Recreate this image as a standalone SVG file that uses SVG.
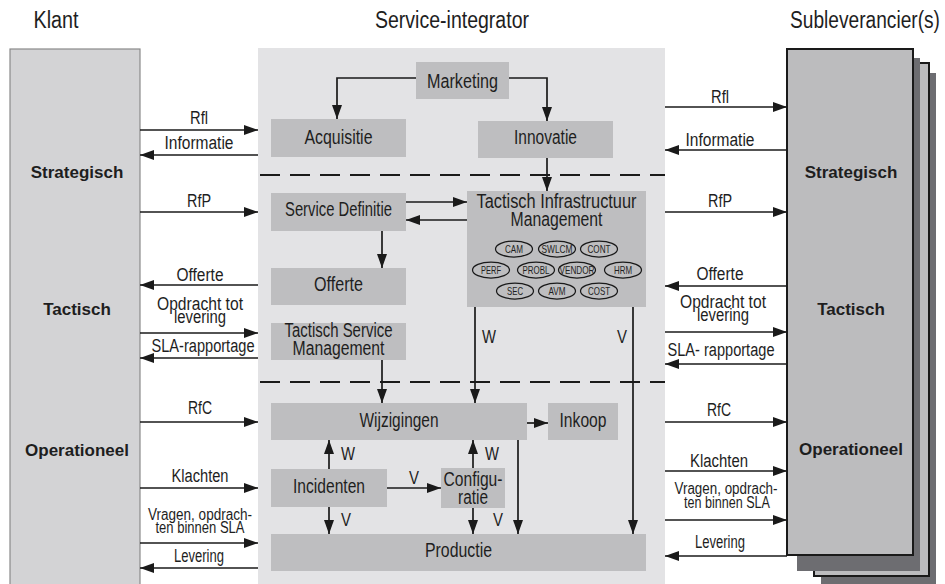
<svg xmlns="http://www.w3.org/2000/svg" width="945" height="584" viewBox="0 0 945 584">
  <style>
    text { font-family: "Liberation Sans", Arial, sans-serif; fill: #1e1e1e; text-anchor: middle; }
    .hd { font-size: 23px; }
    .nd { font-size: 20px; }
    .lb { font-size: 18px; }
    .sm { font-size: 16px; }
    .wv { font-size: 18px; text-anchor: start; }
    .bd { font-weight: bold; font-size: 17px; }
    .node rect { fill: #bebec0; }
    .ov ellipse { fill: none; stroke: #1a1a1a; stroke-width: 1.25; }
    .ov text { font-size: 11px; }
    .c { fill: none; stroke: #1a1a1a; stroke-width: 1.7; marker-end: url(#ah); }
    .dash { stroke: #1a1a1a; stroke-width: 2; stroke-dasharray: 20 10; }
  </style>
  <defs>
    <marker id="ah" markerUnits="userSpaceOnUse" markerWidth="14" markerHeight="10" refX="14" refY="5" orient="auto">
      <path d="M0,0 L14,5 L0,10 z" fill="#1a1a1a"/>
    </marker>
  </defs>

  <rect width="945" height="584" fill="#ffffff"/>

  <!-- column headings -->
  <text class="hd" x="56" y="28" textLength="45" lengthAdjust="spacingAndGlyphs">Klant</text>
  <text class="hd" x="452" y="28" textLength="154" lengthAdjust="spacingAndGlyphs">Service-integrator</text>
  <text class="hd" x="865" y="28" textLength="150" lengthAdjust="spacingAndGlyphs">Subleverancier(s)</text>

  <!-- customer column -->
  <g id="klant">
    <rect x="10" y="49" width="130" height="545" fill="#d3d3d5" stroke="#8a8a8a" stroke-width="1.2"/>
    <text class="bd" x="77" y="178">Strategisch</text>
    <text class="bd" x="77" y="315">Tactisch</text>
    <text class="bd" x="77" y="456">Operationeel</text>
  </g>

  <!-- subcontractor stack -->
  <g id="subleverancier">
    <rect x="821" y="73" width="115" height="511" fill="#6d6d71"/>
    <rect x="814" y="63" width="115" height="513" fill="#bcbcbe" stroke="#1a1a1a" stroke-width="2"/>
    <rect x="797" y="58" width="123" height="513" fill="#6d6d71"/>
    <rect x="787" y="49" width="126" height="506" fill="#bcbcbe" stroke="#1a1a1a" stroke-width="2"/>
    <text class="bd" x="851" y="178">Strategisch</text>
    <text class="bd" x="851" y="315">Tactisch</text>
    <text class="bd" x="851" y="455">Operationeel</text>
  </g>

  <!-- integrator area -->
  <g id="service-integrator">
    <rect x="258" y="48" width="407" height="540" fill="#e3e3e5"/>
    <line class="dash" x1="260" y1="175" x2="665" y2="175"/>
    <line class="dash" x1="260" y1="382" x2="665" y2="382"/>
  </g>

  <g id="marketing" class="node">
    <rect x="416" y="62" width="93" height="37"/>
    <text class="nd" x="462.5" y="88" textLength="71" lengthAdjust="spacingAndGlyphs">Marketing</text>
  </g>
  <g id="acquisitie" class="node">
    <rect x="271" y="119" width="135" height="38"/>
    <text class="nd" x="338.5" y="144" textLength="68" lengthAdjust="spacingAndGlyphs">Acquisitie</text>
  </g>
  <g id="innovatie" class="node">
    <rect x="478" y="121" width="135" height="37"/>
    <text class="nd" x="545.5" y="144" textLength="63" lengthAdjust="spacingAndGlyphs">Innovatie</text>
  </g>
  <g id="service-definitie" class="node">
    <rect x="271" y="193" width="135" height="38"/>
    <text class="nd" x="338.5" y="216" textLength="107" lengthAdjust="spacingAndGlyphs">Service Definitie</text>
  </g>
  <g id="tactisch-infrastructuur-management" class="node">
    <rect x="467" y="191" width="179" height="116"/>
    <text class="nd" x="556.5" y="208" textLength="160" lengthAdjust="spacingAndGlyphs">Tactisch Infrastructuur</text>
    <text class="nd" x="556.5" y="226" textLength="92" lengthAdjust="spacingAndGlyphs">Management</text>
    <g class="ov">
      <ellipse cx="514" cy="249" rx="18.5" ry="8"/><text x="514" y="253" textLength="18" lengthAdjust="spacingAndGlyphs">CAM</text>
      <ellipse cx="557" cy="249" rx="18.5" ry="8"/><text x="557" y="253" textLength="31" lengthAdjust="spacingAndGlyphs">SWLCM</text>
      <ellipse cx="599" cy="249" rx="18.5" ry="8"/><text x="599" y="253" textLength="23" lengthAdjust="spacingAndGlyphs">CONT</text>
      <ellipse cx="491" cy="270" rx="18.5" ry="8"/><text x="491" y="274" textLength="20" lengthAdjust="spacingAndGlyphs">PERF</text>
      <ellipse cx="536" cy="270" rx="18.5" ry="8"/><text x="536" y="274" textLength="27" lengthAdjust="spacingAndGlyphs">PROBL</text>
      <ellipse cx="577" cy="270" rx="18.5" ry="8"/><text x="577" y="274" textLength="35" lengthAdjust="spacingAndGlyphs">VENDOR</text>
      <ellipse cx="623" cy="270" rx="18.5" ry="8"/><text x="623" y="274" textLength="18" lengthAdjust="spacingAndGlyphs">HRM</text>
      <ellipse cx="515" cy="291" rx="18.5" ry="8"/><text x="515" y="295" textLength="16" lengthAdjust="spacingAndGlyphs">SEC</text>
      <ellipse cx="557" cy="291" rx="18.5" ry="8"/><text x="557" y="295" textLength="17" lengthAdjust="spacingAndGlyphs">AVM</text>
      <ellipse cx="599" cy="291" rx="18.5" ry="8"/><text x="599" y="295" textLength="22" lengthAdjust="spacingAndGlyphs">COST</text>
    </g>
  </g>
  <g id="offerte" class="node">
    <rect x="271" y="268" width="135" height="37"/>
    <text class="nd" x="338.5" y="291" textLength="49" lengthAdjust="spacingAndGlyphs">Offerte</text>
  </g>
  <g id="tactisch-service-management" class="node">
    <rect x="271" y="323" width="135" height="37"/>
    <text class="nd" x="338.5" y="337" textLength="108" lengthAdjust="spacingAndGlyphs">Tactisch Service</text>
    <text class="nd" x="338.5" y="355" textLength="92" lengthAdjust="spacingAndGlyphs">Management</text>
  </g>
  <g id="wijzigingen" class="node">
    <rect x="271" y="403" width="256" height="37"/>
    <text class="nd" x="399" y="427" textLength="79" lengthAdjust="spacingAndGlyphs">Wijzigingen</text>
  </g>
  <g id="inkoop" class="node">
    <rect x="548" y="403" width="70" height="37"/>
    <text class="nd" x="583" y="427" textLength="47" lengthAdjust="spacingAndGlyphs">Inkoop</text>
  </g>
  <g id="incidenten" class="node">
    <rect x="271" y="469" width="116" height="38"/>
    <text class="nd" x="329" y="493" textLength="72" lengthAdjust="spacingAndGlyphs">Incidenten</text>
  </g>
  <g id="configuratie" class="node">
    <rect x="441" y="468" width="64" height="40"/>
    <text class="nd" x="473" y="486" textLength="59" lengthAdjust="spacingAndGlyphs">Configu-</text>
    <text class="nd" x="473" y="504" textLength="30" lengthAdjust="spacingAndGlyphs">ratie</text>
  </g>
  <g id="productie" class="node">
    <rect x="271" y="534" width="375" height="37"/>
    <text class="nd" x="458.5" y="557" textLength="67" lengthAdjust="spacingAndGlyphs">Productie</text>
  </g>

  <!-- connectors -->
  <g id="connectors">
    <!-- customer side -->
    <line class="c" x1="140" y1="130" x2="258" y2="130"/>
    <line class="c" x1="258" y1="155" x2="140" y2="155"/>
    <line class="c" x1="140" y1="212" x2="258" y2="212"/>
    <line class="c" x1="258" y1="285" x2="140" y2="285"/>
    <line class="c" x1="140" y1="333" x2="258" y2="333"/>
    <line class="c" x1="258" y1="358" x2="140" y2="358"/>
    <line class="c" x1="140" y1="422" x2="258" y2="422"/>
    <line class="c" x1="140" y1="488" x2="258" y2="488"/>
    <line class="c" x1="140" y1="543" x2="258" y2="543"/>
    <line class="c" x1="258" y1="568" x2="140" y2="568"/>

    <!-- subcontractor side -->
    <line class="c" x1="665" y1="107" x2="787" y2="107"/>
    <line class="c" x1="787" y1="150" x2="665" y2="150"/>
    <line class="c" x1="665" y1="212" x2="787" y2="212"/>
    <line class="c" x1="787" y1="286" x2="665" y2="286"/>
    <line class="c" x1="665" y1="332" x2="787" y2="332"/>
    <line class="c" x1="787" y1="364" x2="665" y2="364"/>
    <line class="c" x1="665" y1="422" x2="787" y2="422"/>
    <line class="c" x1="665" y1="471" x2="787" y2="471"/>
    <line class="c" x1="665" y1="520" x2="787" y2="520"/>
    <line class="c" x1="787" y1="556" x2="665" y2="556"/>

    <!-- inside the integrator -->
    <polyline class="c" points="416,78 337,78 337,119"/>
    <polyline class="c" points="509,78 547,78 547,121"/>
    <line class="c" x1="547" y1="158" x2="547" y2="191"/>
    <line class="c" x1="406" y1="202" x2="467" y2="202"/>
    <line class="c" x1="467" y1="220" x2="406" y2="220"/>
    <line class="c" x1="382" y1="231" x2="382" y2="268"/>
    <line class="c" x1="382" y1="360" x2="382" y2="403"/>
    <line class="c" x1="475" y1="307" x2="475" y2="403"/>
    <line class="c" x1="633" y1="307" x2="633" y2="534"/>
    <line class="c" x1="527" y1="423" x2="548" y2="423"/>
    <line class="c" x1="329" y1="469" x2="329" y2="440"/>
    <line class="c" x1="329" y1="507" x2="329" y2="534"/>
    <line class="c" x1="387" y1="488" x2="441" y2="488"/>
    <line class="c" x1="473" y1="468" x2="473" y2="440"/>
    <line class="c" x1="473" y1="508" x2="473" y2="534"/>
    <line class="c" x1="518" y1="440" x2="518" y2="534"/>

    <!-- flow labels, customer side -->
    <text class="lb" x="199" y="124" textLength="18" lengthAdjust="spacingAndGlyphs">Rfl</text>
    <text class="lb" x="199" y="149" textLength="69" lengthAdjust="spacingAndGlyphs">Informatie</text>
    <text class="lb" x="199" y="207" textLength="24" lengthAdjust="spacingAndGlyphs">RfP</text>
    <text class="lb" x="200" y="281" textLength="47" lengthAdjust="spacingAndGlyphs">Offerte</text>
    <text class="lb" x="200" y="310" textLength="86" lengthAdjust="spacingAndGlyphs">Opdracht tot</text>
    <text class="lb" x="200" y="323" textLength="52" lengthAdjust="spacingAndGlyphs">levering</text>
    <text class="lb" x="203" y="352" textLength="103" lengthAdjust="spacingAndGlyphs">SLA-rapportage</text>
    <text class="lb" x="200" y="414" textLength="24" lengthAdjust="spacingAndGlyphs">RfC</text>
    <text class="lb" x="200" y="482" textLength="57" lengthAdjust="spacingAndGlyphs">Klachten</text>
    <text class="sm" x="200" y="520" textLength="104" lengthAdjust="spacingAndGlyphs">Vragen, opdrach-</text>
    <text class="sm" x="200" y="533" textLength="89" lengthAdjust="spacingAndGlyphs">ten binnen SLA</text>
    <text class="lb" x="199" y="562" textLength="50" lengthAdjust="spacingAndGlyphs">Levering</text>

    <!-- flow labels, subcontractor side -->
    <text class="lb" x="720" y="103" textLength="18" lengthAdjust="spacingAndGlyphs">Rfl</text>
    <text class="lb" x="720" y="146" textLength="69" lengthAdjust="spacingAndGlyphs">Informatie</text>
    <text class="lb" x="720" y="207" textLength="24" lengthAdjust="spacingAndGlyphs">RfP</text>
    <text class="lb" x="720" y="280" textLength="47" lengthAdjust="spacingAndGlyphs">Offerte</text>
    <text class="lb" x="723" y="308" textLength="86" lengthAdjust="spacingAndGlyphs">Opdracht tot</text>
    <text class="lb" x="723" y="321" textLength="52" lengthAdjust="spacingAndGlyphs">levering</text>
    <text class="lb" x="721" y="356" textLength="107" lengthAdjust="spacingAndGlyphs">SLA- rapportage</text>
    <text class="lb" x="719" y="416" textLength="24" lengthAdjust="spacingAndGlyphs">RfC</text>
    <text class="lb" x="719" y="467" textLength="58" lengthAdjust="spacingAndGlyphs">Klachten</text>
    <text class="sm" x="726" y="494" textLength="103" lengthAdjust="spacingAndGlyphs">Vragen, opdrach-</text>
    <text class="sm" x="727" y="508" textLength="86" lengthAdjust="spacingAndGlyphs">ten binnen SLA</text>
    <text class="lb" x="720" y="548" textLength="50" lengthAdjust="spacingAndGlyphs">Levering</text>

    <!-- W / V markers -->
    <text class="wv" x="482" y="343" textLength="14" lengthAdjust="spacingAndGlyphs">W</text>
    <text class="wv" x="617" y="343" textLength="10" lengthAdjust="spacingAndGlyphs">V</text>
    <text class="wv" x="341" y="460" textLength="14" lengthAdjust="spacingAndGlyphs">W</text>
    <text class="wv" x="341" y="526" textLength="10" lengthAdjust="spacingAndGlyphs">V</text>
    <text class="wv" x="409" y="484" textLength="10" lengthAdjust="spacingAndGlyphs">V</text>
    <text class="wv" x="485" y="460" textLength="14" lengthAdjust="spacingAndGlyphs">W</text>
    <text class="wv" x="493" y="526" textLength="10" lengthAdjust="spacingAndGlyphs">V</text>
  </g>
</svg>
